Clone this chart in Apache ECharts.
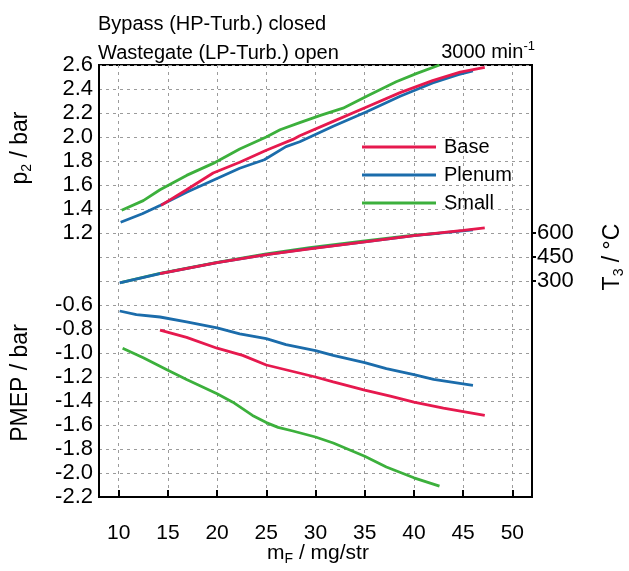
<!DOCTYPE html>
<html>
<head>
<meta charset="utf-8">
<script src="https://cdn.jsdelivr.net/npm/echarts@6/dist/echarts.min.js"></script>
<style>
  html, body { margin: 0; padding: 0; background: #fff; }
  #chart { width: 629px; height: 571px; }
</style>
</head>
<body>
<div id="chart"></div>
<script>
// Fuel mass m_F [mg/str] vs. boost pressure p2, exhaust temperature T3 and PMEP
// at 3000 min^-1, HP bypass closed / LP wastegate open.

const xTicks = [10, 15, 20, 25, 30, 35, 40, 45, 50];
const p2Ticks = [1.2, 1.4, 1.6, 1.8, 2.0, 2.2, 2.4, 2.6];
const pmepTicks = [-2.2, -2.0, -1.8, -1.6, -1.4, -1.2, -1.0, -0.8, -0.6];
const t3Ticks = [300, 450, 600];

// boost pressure p2 / bar
const p2Small = [[10.3,1.39],[12.5,1.47],[14.2,1.56],[16.9,1.68],[19.6,1.78],[22.3,1.90],[25.0,2.00],[26.4,2.06],[28.4,2.12],[30.5,2.18],[32.8,2.24],[35.2,2.34],[38.2,2.46],[40.3,2.53],[42.6,2.60]];
const p2Plenum = [[10.2,1.29],[12.4,1.36],[14.2,1.43],[16.9,1.54],[19.6,1.64],[22.3,1.74],[24.8,1.81],[27.0,1.92],[28.4,1.96],[31.8,2.09],[35.2,2.21],[38.6,2.34],[41.9,2.45],[44.5,2.52],[46.0,2.55]];
const p2Base = [[14.3,1.43],[16.9,1.56],[19.6,1.70],[22.3,1.79],[25.0,1.89],[27.7,1.98],[28.4,2.01],[31.8,2.13],[35.2,2.25],[38.6,2.37],[41.9,2.47],[44.7,2.54],[47.2,2.58]];

// exhaust temperature T3 / °C
const t3Small = [[10.3,292],[14.2,348],[20.0,417],[25.0,470],[29.4,508],[35.0,550],[40.0,587],[42.6,598]];
const t3Plenum = [[10.1,288],[14.2,346],[20.0,415],[25.0,465],[29.4,502],[35.0,544],[40.0,583],[46.0,620]];
const t3Base = [[14.2,346],[20.0,415],[25.0,465],[30.0,505],[35.0,544],[40.0,584],[45.0,617],[47.2,632]];

// pumping mean effective pressure PMEP / bar
const pmepSmall = [[10.4,-0.96],[12.5,-1.04],[14.9,-1.14],[16.9,-1.22],[20.0,-1.34],[21.6,-1.41],[23.6,-1.52],[25.0,-1.58],[26.2,-1.62],[27.7,-1.65],[30.0,-1.70],[31.8,-1.75],[35.0,-1.86],[37.2,-1.95],[40.0,-2.04],[42.6,-2.11]];
const pmepPlenum = [[10.1,-0.65],[11.8,-0.68],[14.2,-0.70],[16.9,-0.74],[20.0,-0.79],[22.3,-0.84],[25.0,-0.88],[27.0,-0.93],[30.0,-0.98],[31.8,-1.02],[35.0,-1.08],[37.2,-1.13],[40.0,-1.18],[42.0,-1.22],[46.0,-1.27]];
const pmepBase = [[14.2,-0.81],[16.9,-0.87],[20.0,-0.96],[22.6,-1.02],[25.0,-1.10],[27.5,-1.15],[30.0,-1.20],[31.8,-1.24],[35.0,-1.31],[37.6,-1.36],[40.0,-1.41],[43.0,-1.46],[47.2,-1.52]];

const FONT = '"Liberation Sans", Arial, sans-serif';
const COLORS = { Base: '#E6194E', Plenum: '#1B6CAB', Small: '#3CB03C' };
const GRID_LINE = { color: '#9b9b9b', width: 1, type: [3, 4] };
const BLACK_LINE = { color: '#000', width: 2 };

function curve(name, data, yAxisIndex) {
  return {
    name: name,
    type: 'line',
    data: data,
    yAxisIndex: yAxisIndex,
    showSymbol: false,
    symbol: 'none',
    silent: true,
    lineStyle: { color: COLORS[name], width: 2.8 },
    itemStyle: { color: COLORS[name] }
  };
}

const big = (size) => ({ fontSize: size, fontFamily: FONT, fill: '#000', lineHeight: 26 });
const sub = { fontSize: 14, fontFamily: FONT, fill: '#000', lineHeight: 14, verticalAlign: 'bottom' };

const chart = echarts.init(document.getElementById('chart'), null, { renderer: 'canvas' });

chart.setOption({
  animation: false,
  grid: { left: 99, top: 65, right: 97, bottom: 74, show: true, borderColor: '#000', borderWidth: 2 },
  legend: {
    data: ['Base', 'Plenum', 'Small'],
    orient: 'vertical',
    left: 357,
    top: 132,
    padding: 5,
    icon: 'rect',
    itemWidth: 74,
    itemHeight: 3,
    itemGap: 8,
    selectedMode: false,
    textStyle: { fontSize: 20, fontFamily: FONT, color: '#000', lineHeight: 20, padding: [0, 0, 0, 3] }
  },
  xAxis: {
    type: 'value',
    min: 8,
    max: 52,
    axisLine: { show: true, onZero: false, lineStyle: BLACK_LINE },
    axisTick: { show: true, inside: true, length: 7, customValues: xTicks, lineStyle: BLACK_LINE },
    axisLabel: { customValues: xTicks, margin: 26, fontSize: 21, fontFamily: FONT, color: '#000' },
    splitLine: { show: true, lineStyle: GRID_LINE }
  },
  yAxis: [
    {
      type: 'value', position: 'left', min: -1.0, max: 2.6, interval: 0.2,
      axisLine: { show: true, onZero: false, lineStyle: BLACK_LINE },
      axisTick: { show: false },
      axisLabel: { customValues: p2Ticks, formatter: v => v.toFixed(1), margin: 6, fontSize: 22, fontFamily: FONT, color: '#000' },
      splitLine: { show: true, lineStyle: GRID_LINE }
    },
    {
      type: 'value', position: 'left', min: -2.2, max: 1.4, interval: 0.2,
      axisLine: { show: false },
      axisTick: { show: false },
      axisLabel: { customValues: pmepTicks, formatter: v => v.toFixed(1), margin: 6, fontSize: 22, fontFamily: FONT, color: '#000' },
      splitLine: { show: false }
    },
    {
      type: 'value', position: 'right', min: -1050, max: 1650, interval: 150,
      axisLine: { show: true, onZero: false, lineStyle: BLACK_LINE },
      axisTick: { show: true, inside: false, length: 4, customValues: t3Ticks, lineStyle: BLACK_LINE },
      axisLabel: { customValues: t3Ticks, margin: 5, fontSize: 22, fontFamily: FONT, color: '#000' },
      splitLine: { show: false }
    }
  ],
  series: [
    curve('Small', p2Small, 0),
    curve('Plenum', p2Plenum, 0),
    curve('Base', p2Base, 0),
    curve('Small', t3Small, 2),
    curve('Plenum', t3Plenum, 2),
    curve('Base', t3Base, 2),
    curve('Small', pmepSmall, 1),
    curve('Plenum', pmepPlenum, 1),
    curve('Base', pmepBase, 1)
  ],
  graphic: [
    { type: 'text', x: 98, y: 24, silent: true,
      style: { text: 'Bypass (HP-Turb.) closed', fontSize: 20, fontFamily: FONT, fill: '#000', align: 'left', verticalAlign: 'middle' } },
    { type: 'text', x: 98, y: 53, silent: true,
      style: { text: 'Wastegate (LP-Turb.) open', fontSize: 20, fontFamily: FONT, fill: '#000', align: 'left', verticalAlign: 'middle' } },
    { type: 'text', x: 535, y: 52, silent: true,
      style: { text: '{a|3000 min}{u|-1}', align: 'right', verticalAlign: 'middle',
        rich: { a: { fontSize: 20, fontFamily: FONT, fill: '#000', lineHeight: 24 },
                u: { fontSize: 13, fontFamily: FONT, fill: '#000', lineHeight: 13, verticalAlign: 'top' } } } },
    { type: 'text', x: 21, y: 148, rotation: Math.PI / 2, silent: true,
      style: { text: '{a|p}{s|2}{a| / bar}', align: 'center', verticalAlign: 'middle', rich: { a: big(23), s: sub } } },
    { type: 'text', x: 21, y: 383, rotation: Math.PI / 2, silent: true,
      style: { text: '{a|PMEP / bar}', align: 'center', verticalAlign: 'middle', rich: { a: big(23) } } },
    { type: 'text', x: 613, y: 257, rotation: Math.PI / 2, silent: true,
      style: { text: '{a|T}{s|3}{a| / °C}', align: 'center', verticalAlign: 'middle', rich: { a: big(23), s: sub } } },
    { type: 'text', x: 318, y: 553, silent: true,
      style: { text: '{a|m}{s|F}{a| / mg/str}', align: 'center', verticalAlign: 'middle', rich: { a: big(21), s: sub } } }
  ]
});
</script>
</body>
</html>
